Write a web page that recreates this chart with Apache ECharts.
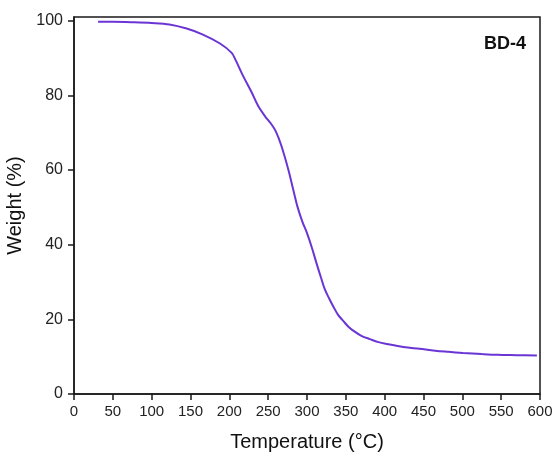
<!DOCTYPE html>
<html>
<head>
<meta charset="utf-8">
<script src="https://cdn.jsdelivr.net/npm/echarts@6/dist/echarts.min.js"></script>
<style>
  html, body { margin: 0; padding: 0; background: #fff; }
  #chart { width: 557px; height: 456px; }
</style>
</head>
<body>
<div id="chart"></div>
<script>
// TGA curve of sample BD-4: temperature (°C) vs remaining weight (%)
const temperatures = [31, 50, 75, 100, 123, 145, 166, 188, 203, 208, 218, 229, 237, 246, 253, 260, 267, 276, 282, 288, 294, 300, 306, 312, 318, 323, 329, 334, 340, 347, 353, 360, 370, 381, 392, 403, 424, 445, 465, 482, 501, 525, 545, 570, 596];
const weights = [99.7, 99.7, 99.6, 99.4, 99.0, 97.9, 96.3, 93.9, 91.4, 89.5, 85.1, 80.7, 77.2, 74.4, 72.6, 70.3, 66.5, 60.1, 55.0, 50.0, 46.2, 43.1, 39.4, 35.2, 31.2, 28.0, 25.4, 23.4, 21.2, 19.5, 18.1, 16.9, 15.6, 14.7, 13.9, 13.4, 12.6, 12.1, 11.6, 11.3, 11.0, 10.7, 10.5, 10.4, 10.3];
const weightTicks = [0, 20, 40, 60, 80, 100];
const sampleName = 'BD-4';

const FONT = '"Liberation Sans", Arial, sans-serif';
const INK = '#1a1a1a';

const chart = echarts.init(document.getElementById('chart'), null, { renderer: 'canvas' });

chart.setOption({
  animation: false,
  backgroundColor: '#fff',
  title: {
    text: sampleName,
    right: 31,
    top: 35,
    padding: 0,
    textStyle: { fontFamily: FONT, fontSize: 18, fontWeight: 'bold', color: '#111' }
  },
  grid: {
    left: 74, right: 17, top: 17, bottom: 62,
    outerBoundsMode: 'none',
    containLabel: false,
    show: true,
    borderColor: INK,
    borderWidth: 1.5,
    backgroundColor: 'transparent'
  },
  xAxis: {
    type: 'value',
    min: 0, max: 600, interval: 50,
    name: 'Temperature (°C)',
    nameLocation: 'middle',
    nameGap: 38,
    nameTextStyle: { fontFamily: FONT, fontSize: 20, color: '#111' },
    axisLine: { show: true, onZero: false, lineStyle: { color: INK, width: 1.5 } },
    axisTick: { show: true, inside: false, length: 6, lineStyle: { color: INK, width: 1.5 } },
    axisLabel: { margin: 10, fontFamily: FONT, fontSize: 15, color: '#222' },
    splitLine: { show: false }
  },
  yAxis: {
    type: 'value',
    min: 0, max: 101,
    name: 'Weight (%)',
    nameLocation: 'middle',
    nameGap: 49,
    nameTextStyle: { fontFamily: FONT, fontSize: 20, color: '#111' },
    axisLine: { show: true, onZero: false, lineStyle: { color: INK, width: 1.5 } },
    axisTick: { show: true, inside: false, length: 6, customValues: weightTicks, lineStyle: { color: INK, width: 1.5 } },
    axisLabel: { margin: 11, fontFamily: FONT, fontSize: 16, color: '#222', customValues: weightTicks },
    splitLine: { show: false }
  },
  series: [{
    type: 'line',
    data: temperatures.map((t, i) => [t, weights[i]]),
    smooth: 0.35,
    showSymbol: false,
    lineStyle: { color: '#6a35d4', width: 2 }
  }]
});
</script>
</body>
</html>
